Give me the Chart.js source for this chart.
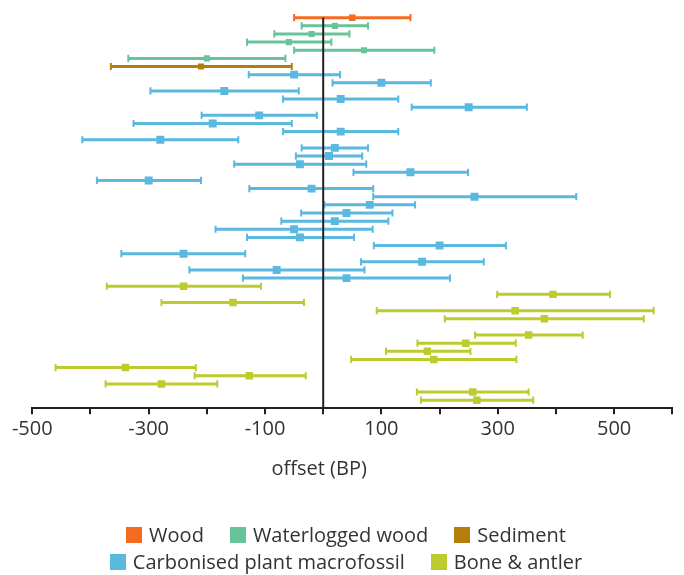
<!DOCTYPE html>
<html>
<head>
<meta charset="utf-8">
<script src="https://cdn.jsdelivr.net/npm/chart.js@4/dist/chart.umd.min.js"></script>
<style>
  html, body { margin: 0; padding: 0; background: #fff; }
  #wrap { position: relative; width: 684px; height: 575px; }
  #chart { position: absolute; left: 0; top: 0; }
  #legend {
    position: absolute; left: 86px; top: 521px; width: 520px;
    display: flex; flex-wrap: wrap; justify-content: center;
    font: 20px "Open Sans", sans-serif; color: #333; line-height: 27px;
  }
  .item { display: flex; align-items: center; margin: 0 13px; white-space: nowrap; }
  .box { width: 16px; height: 16px; margin-right: 7px; }
</style>
</head>
<body>
<div id="wrap">
  <canvas id="chart" width="684" height="575"></canvas>
  <div id="legend"></div>
</div>
<script>
// Axis
const xTitle = 'offset (BP)';
const xMin = -500, xMax = 600, xStep = 100;

// Material types and their colours
const materials = ['Wood', 'Waterlogged wood', 'Sediment', 'Carbonised plant macrofossil', 'Bone & antler'];
const colours = ['#F36C21', '#66C39A', '#B47E0B', '#5BB8DF', '#BDCB2F'];
const markSizes = [4.6, 4.3, 4.3, 5.6, 5.3];

// Wood
const woodRows = [1];
const woodOffset = [50];
const woodLow = [-50];
const woodHigh = [150];

// Waterlogged wood
const wlRows = [2, 3, 4, 5, 6];
const wlOffset = [20, -20, -59, 70, -200];
const wlLow = [-37, -84, -131, -50, -335];
const wlHigh = [77, 45, 14, 191, -65];

// Sediment
const sedRows = [7];
const sedOffset = [-210];
const sedLow = [-365];
const sedHigh = [-54];

// Carbonised plant macrofossil
const cpmRows = [8, 9, 10, 11, 12, 13, 14, 15, 16, 17, 18, 19, 20, 21, 22, 23, 24, 25, 26, 27, 28, 29, 30, 31, 32, 33];
const cpmOffset = [-50, 100, -170, 30, 250, -110, -190, 30, -280, 20, 10, -40, 150, -300, -20, 260, 80, 40, 20, -50, -40, 200, -240, 170, -80, 40];
const cpmLow = [-128, 16, -297, -69, 152, -209, -326, -69, -414, -37, -47, -153, 52, -389, -127, 86, 2, -38, -72, -185, -131, 87, -347, 65, -230, -138];
const cpmHigh = [29, 185, -42, 129, 350, -11, -54, 129, -146, 77, 67, 74, 249, -210, 86, 435, 158, 119, 112, 85, 53, 314, -134, 276, 71, 218];

// Bone & antler
const boneRows = [34, 35, 36, 37, 38, 40, 41, 42, 43, 44, 45, 46, 47, 48];
const boneOffset = [-240, 395, -155, 330, 380, 353, 245, 179, 190, -340, -127, -278, 257, 264];
const boneLow = [-372, 299, -278, 92, 209, 261, 162, 108, 48, -460, -221, -374, 161, 168];
const boneHigh = [-107, 493, -33, 568, 551, 446, 331, 253, 332, -219, -30, -182, 353, 361];

const rowCount = 48;

const series = [
  { rows: woodRows, offset: woodOffset, low: woodLow, high: woodHigh },
  { rows: wlRows, offset: wlOffset, low: wlLow, high: wlHigh },
  { rows: sedRows, offset: sedOffset, low: sedLow, high: sedHigh },
  { rows: cpmRows, offset: cpmOffset, low: cpmLow, high: cpmHigh },
  { rows: boneRows, offset: boneOffset, low: boneLow, high: boneHigh }
];

const ink = '#231F20';
const datasets = [];

// reference line at zero offset
datasets.push({
  type: 'scatter', label: 'zero', data: [{ x: 0, y: 1 }, { x: 0, y: rowCount + 1 }],
  showLine: true, borderColor: ink, borderWidth: 2, pointRadius: 0, order: 0
});

series.forEach((s, k) => {
  const whiskers = [], caps = [], marks = [];
  s.rows.forEach((r, i) => {
    whiskers.push({ x: s.low[i], y: r }, { x: s.high[i], y: r }, { x: null, y: null });
    caps.push({ x: s.low[i], y: r }, { x: s.high[i], y: r });
    marks.push({ x: s.offset[i], y: r });
  });
  datasets.push({
    type: 'scatter', label: materials[k] + ' range', data: whiskers,
    showLine: true, spanGaps: false, borderColor: colours[k], borderWidth: 3,
    borderCapStyle: 'butt', pointRadius: 0, order: 3
  });
  datasets.push({
    type: 'scatter', label: materials[k] + ' ends', data: caps,
    pointStyle: 'line', pointRotation: 90, pointRadius: 3.6,
    pointBorderColor: colours[k], borderColor: colours[k], pointBorderWidth: 2, order: 2
  });
  datasets.push({
    type: 'scatter', label: materials[k], data: marks,
    pointStyle: 'rect', pointRadius: markSizes[k], pointBackgroundColor: colours[k],
    backgroundColor: colours[k], pointBorderWidth: 0, order: 1
  });
});

const zeroTitle = {
  id: 'zeroTitle',
  afterDraw(chart) {
    const sx = chart.scales.x;
    const ctx = chart.ctx;
    ctx.save();
    ctx.font = '20px "Open Sans", sans-serif';
    ctx.fillStyle = '#333';
    ctx.textAlign = 'center';
    ctx.textBaseline = 'middle';
    ctx.fillText(xTitle, sx.getPixelForValue(0) - 4, sx.bottom + 25);
    ctx.restore();
  }
};

new Chart(document.getElementById('chart'), {
  type: 'scatter',
  data: { datasets },
  plugins: [zeroTitle],
  options: {
    responsive: false,
    animation: false,
    events: [],
    layout: { padding: { left: 32.3, right: 11.7, top: 9.56, bottom: 130.7 } },
    plugins: { legend: { display: false }, tooltip: { enabled: false }, title: { display: false } },
    scales: {
      x: {
        type: 'linear', min: xMin, max: xMax,
        border: { display: true, color: ink, width: 2 },
        grid: { display: true, drawOnChartArea: false, drawTicks: true, tickLength: 6, color: ink, lineWidth: 2 },
        ticks: {
          stepSize: xStep, autoSkip: false, maxRotation: 0, padding: 3,
          color: '#333', font: { family: '"Open Sans", sans-serif', size: 20 },
          callback: v => (v % 200 !== 0 ? String(v) : '')
        }
      },
      y: { type: 'linear', reverse: true, min: 0, max: rowCount + 1, display: false }
    }
  }
});

// legend
const legend = document.getElementById('legend');
materials.forEach((m, k) => {
  const item = document.createElement('div');
  item.className = 'item';
  const box = document.createElement('span');
  box.className = 'box';
  box.style.background = colours[k];
  const txt = document.createElement('span');
  txt.textContent = m;
  item.appendChild(box);
  item.appendChild(txt);
  legend.appendChild(item);
});
</script>
</body>
</html>
